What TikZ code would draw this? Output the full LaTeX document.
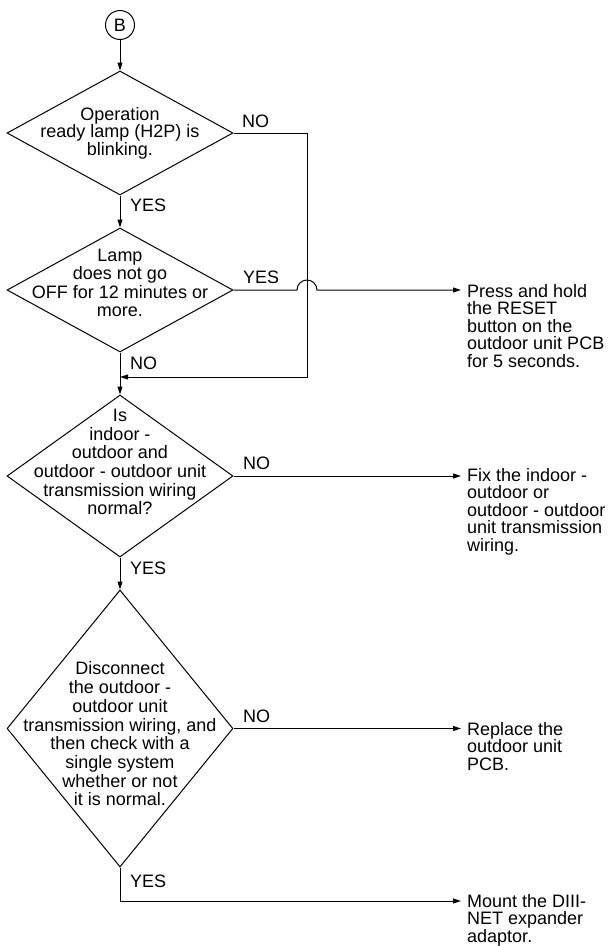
\documentclass[tikz,border=0pt]{standalone}
\usepackage{fontspec}
\setmainfont{Liberation Sans}
\usetikzlibrary{shapes.geometric,arrows.meta}
\begin{document}
\begin{tikzpicture}[x=1pt,y=-1pt,
  every node/.style={font=\fontsize{18}{17.5}\selectfont, inner sep=0pt},
  dia/.style={draw, diamond, line width=1pt, inner sep=0pt, minimum width=226pt},
  txt/.style={align=center},
  res/.style={align=left, anchor=north west},
  lbl/.style={anchor=base west},
  conn/.style={line width=1pt},
  arr/.style={conn, -{Triangle[length=8pt,width=5pt]}}]
\useasboundingbox (0,0) rectangle (612,946);

\node[draw, circle, minimum size=29pt, line width=1pt] (B) at (120,25) {B};

\node[dia, minimum height=124pt] (d1) at (120,133) {};
\node[txt] (t1) at (120,133) {Operation\\ready lamp (H2P) is\\blinking.};

\node[dia, minimum height=124pt] (d2) at (120,290) {};
\node[txt, font=\fontsize{18}{18.3}\selectfont] (t2) at (120,283) {Lamp\\does not go\\OFF for 12 minutes or\\more.};

\node[dia, minimum height=162pt] (d3) at (120,476) {};
\node[txt, font=\fontsize{18}{18.6}\selectfont] (t3) at (120,462) {Is\\indoor -\\outdoor and\\outdoor - outdoor unit\\transmission wiring\\normal?};

\node[dia, minimum height=277pt] (d4) at (120,728.5) {};
\node[txt, font=\fontsize{18}{18.7}\selectfont] (t4) at (120,734) {Disconnect\\the outdoor -\\outdoor unit\\transmission wiring, and\\then check with a\\single system\\whether or not\\it is normal.};

\node[res] (r1) at (467,284) {Press and hold\\the RESET\\button on the\\outdoor unit PCB\\for 5 seconds.};
\node[res] (r2) at (467,468) {Fix the indoor -\\outdoor or\\outdoor - outdoor\\unit transmission\\wiring.};
\node[res] (r3) at (467,722) {Replace the\\outdoor unit\\PCB.};
\node[res] (r4) at (467,894) {Mount the DIII-\\NET expander\\adaptor.};

\node[lbl] (l1) at (242,127) {NO};
\node[lbl] (l2) at (130,211) {YES};
\node[lbl] (l3) at (243,283) {YES};
\node[lbl] (l4) at (130,369) {NO};
\node[lbl] (l5) at (243,469) {NO};
\node[lbl] (l6) at (130,574) {YES};
\node[lbl] (l7) at (243,722) {NO};
\node[lbl] (l8) at (130,887) {YES};

\coordinate (loopx) at (307,0);
\coordinate (merge) at (120,377);
\coordinate (c4) at (120,901);

\draw[arr] (B) -- (d1);
\draw[arr] (d1) -- (d2);
\draw[arr] (d2) -- (d3);
\draw[arr] (d3) -- (d4);
\draw[arr] (d1.east) -- (d1.east -| loopx) -- (loopx |- merge) -- (merge);
\draw[arr, shorten >=6pt] (d2.east) -- (297,290) arc[start angle=180, end angle=360, radius=10] -- (d2.east -| r1.west);
\draw[arr, shorten >=6pt] (d3.east) -- (d3.east -| r2.west);
\draw[arr, shorten >=6pt] (d4.east) -- (d4.east -| r3.west);
\draw[arr, shorten >=6pt] (d4.south) -- (c4) -- (c4 -| r4.west);
\end{tikzpicture}
\end{document}
